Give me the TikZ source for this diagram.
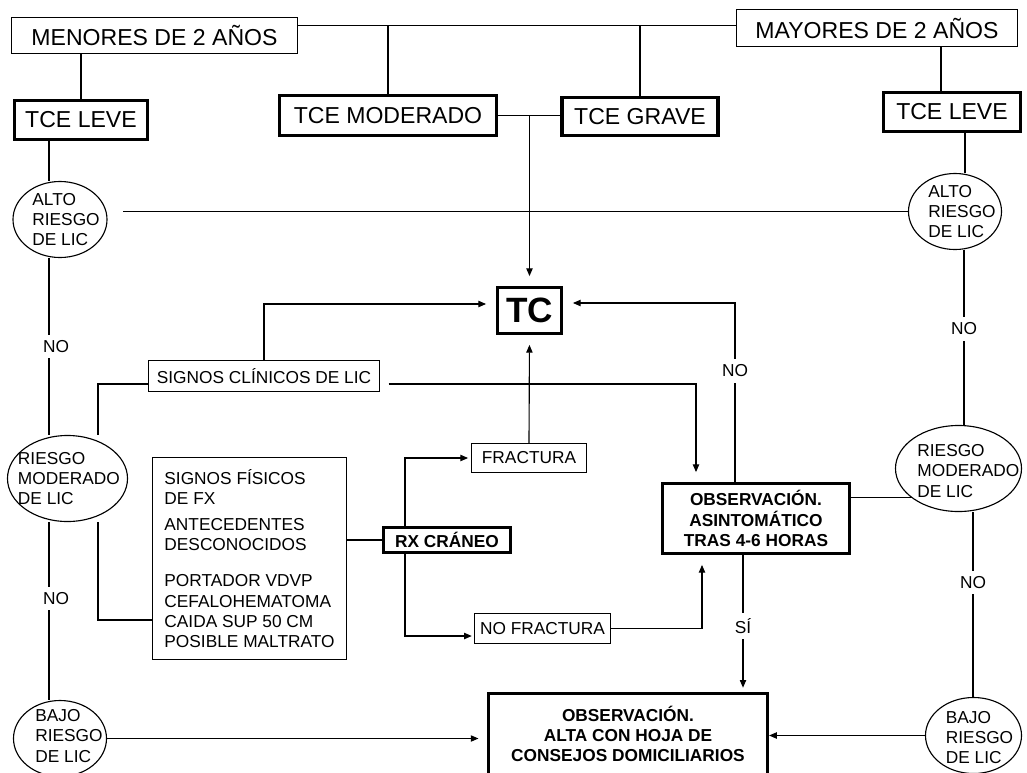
\documentclass[tikz,border=0pt]{standalone}
\usepackage{fontspec}
\setmainfont{Liberation Sans}
\usetikzlibrary{shapes.geometric, arrows.meta}

\begin{document}
\begin{tikzpicture}[x=0.025cm, y=-0.025cm, line width=0.8pt,
	>={Triangle[length=5.5pt,width=4.5pt]},
	caja/.style={draw, rectangle, inner sep=0pt, font=\fontsize{12.3}{14.5}\selectfont},
	cabecera/.style={caja, font=\fontsize{16.4}{19}\selectfont},
	gruesa/.style={caja, line width=2.2pt, font=\fontsize{12.3}{14.5}\selectfont\bfseries, align=center},
	grande/.style={cabecera, line width=2.2pt},
	elip/.style={draw, ellipse, inner sep=0pt},
	txt/.style={font=\fontsize{12.3}{14.5}\selectfont, align=left},
	rotulo/.style={fill=white, font=\fontsize{12.3}{14.5}\selectfont, inner sep=4pt},
	hueco/.style={shorten >=7pt}]
\useasboundingbox (0,0) rectangle (1027,772);
\node[cabecera, minimum width=7.15cm, minimum height=0.9cm] (menores) at (154.5,35.5) {MENORES DE 2 AÑOS};
\node[cabecera, minimum width=7.025cm, minimum height=0.925cm] (mayores) at (877,28) {MAYORES DE 2 AÑOS};
\node[grande, minimum width=3.325cm, minimum height=0.975cm] (tceLeveL) at (81,120) {TCE LEVE};
\node[grande, minimum width=5.425cm, minimum height=1cm] (tceModerado) at (388,115.5) {TCE MODERADO};
\node[grande, minimum width=3.9cm, minimum height=0.95cm] (tceGrave) at (640,116.5) {TCE GRAVE};
\node[grande, minimum width=3.425cm, minimum height=0.975cm] (tceLeveR) at (952,112) {TCE LEVE};
\node[gruesa, font=\fontsize{25}{30}\selectfont\bfseries, minimum width=1.6cm, minimum height=1.15cm] (tc) at (529.5,310.5) {TC};
\node[caja, minimum width=5.775cm, minimum height=0.775cm] (signosCL) at (264,376) {SIGNOS CLÍNICOS DE LIC};
\node[caja, align=left, minimum width=4.85cm, minimum height=5.05cm] (fisicos) at (249.5,558.5)
	{SIGNOS FÍSICOS\\DE FX\\[4pt]ANTECEDENTES\\DESCONOCIDOS\\[11pt]PORTADOR VDVP\\CEFALOHEMATOMA\\CAIDA SUP 50 CM\\POSIBLE MALTRATO};
\node[gruesa, minimum width=3.175cm, minimum height=0.625cm] (rx) at (447,540) {RX CRÁNEO};
\node[caja, minimum width=2.875cm, minimum height=0.725cm] (fractura) at (529,458) {FRACTURA};
\node[caja, minimum width=3.4cm, minimum height=0.75cm] (noFractura) at (542.5,628.5) {NO FRACTURA};
\node[gruesa, minimum width=4.675cm, minimum height=1.75cm] (obs) at (756,518.5) {OBSERVACIÓN.\\ASINTOMÁTICO\\TRAS 4-6 HORAS};
\node[gruesa, minimum width=6.975cm, minimum height=2.025cm] (alta) at (628,734) {OBSERVACIÓN.\\ALTA CON HOJA DE\\CONSEJOS DOMICILIARIOS};
\node[elip, minimum width=2.35cm, minimum height=1.9cm, label={[txt, xshift=4.3pt]center:ALTO\\RIESGO\\DE LIC}] (altoL) at (60,219.5) {};
\node[elip, minimum width=3cm, minimum height=2.15cm, label={[txt, xshift=1pt]center:RIESGO\\MODERADO\\DE LIC}] (riesgoL) at (67.5,478.5) {};
\node[elip, minimum width=2.325cm, minimum height=1.9cm, label={[txt, xshift=6.4pt, yshift=1.8pt]center:BAJO\\RIESGO\\DE LIC}] (bajoL) at (60,738.5) {};
\node[elip, minimum width=2.325cm, minimum height=1.9cm, label={[txt, xshift=5pt]center:ALTO\\RIESGO\\DE LIC}] (altoR) at (955,211.5) {};
\node[elip, minimum width=3.15cm, minimum height=2.15cm, label={[txt, xshift=7pt, yshift=-1.8pt]center:RIESGO\\MODERADO\\DE LIC}] (riesgoR) at (958.5,468.5) {};
\node[elip, minimum width=2.4cm, minimum height=1.9cm, label={[txt, xshift=4.3pt, yshift=-1.5pt]center:BAJO\\RIESGO\\DE LIC}] (bajoR) at (973.5,735.5) {};
\coordinate (bus) at (0,25.5);
\draw (menores.east |- bus) to (mayores.west |- bus);
\draw (tceModerado.north |- bus) to (tceModerado.north);
\draw (tceGrave.north |- bus) to (tceGrave.north);
\draw (tceLeveL.north |- menores.south) to (tceLeveL.north);
\draw (941,0 |- mayores.south) to (941,0 |- tceLeveR.north);
\draw (tceModerado.east) to (tceGrave.west |- tceModerado.east);
\draw[->, hueco] (tc.north |- tceModerado.east) to (tc.north);
\draw (49,0 |- tceLeveL.south) to (49,0 |- altoL.north);
\draw (49,0 |- altoL.south) to node[rotulo, pos=0.5, xshift=5pt] {NO} (49,0 |- riesgoL.north);
\draw (49,0 |- riesgoL.south) to node[rotulo, pos=0.43, xshift=5pt] {NO} (49,0 |- bajoL.north);
\draw[shorten <=11pt] (altoL.east |- altoR.west) to (altoR.west);
\draw (965,0 |- tceLeveR.south) to (965,0 |- altoR.north);
\draw (964,0 |- altoR.south) to node[rotulo, pos=0.45] {NO} (964,0 |- riesgoR.north);
\draw (973,0 |- riesgoR.south) to node[rotulo, pos=0.38] {NO} (973,0 |- bajoR.north);
\draw[->] (bajoR.west) to (alta.east |- bajoR.west);
\draw[->, shorten >=6pt] (bajoL.east) to (alta.west |- bajoL.east);
\draw (obs.east |- riesgoR.212) to (riesgoR.212);
\draw[->, hueco] (obs.north -| 735,0) |- node[rotulo, pos=0.31] {NO} (tc.east |- 0,303);
\draw[->, hueco] (signosCL.north) |- (tc.west |- 0,304);
\draw[->, hueco, shorten <=6pt] (signosCL.east |- 0,384) -| (obs.north -| 696,0);
\draw (98,0 |- riesgoL.north) |- (signosCL.west |- 0,384);
\draw (98,0 |- riesgoL.south) |- (fisicos.west |- 0,620);
\draw (fisicos.east |- rx.west) to (rx.west);
\draw[->, shorten >=2pt] (rx.north -| 405,0) |- (fractura.west);
\draw[->, shorten >=1.5pt] (rx.south -| 405,0) |- (noFractura.west |- 0,636);
\draw[->, hueco] (fractura.north) to (tc.south);
\draw[->, hueco] (noFractura.east) -| (obs.south -| 702,0);
\draw[->, shorten >=3pt] (obs.south -| 743,0) to node[rotulo, pos=0.52] {SÍ} (alta.north -| 743,0);
\end{tikzpicture}
\end{document}
